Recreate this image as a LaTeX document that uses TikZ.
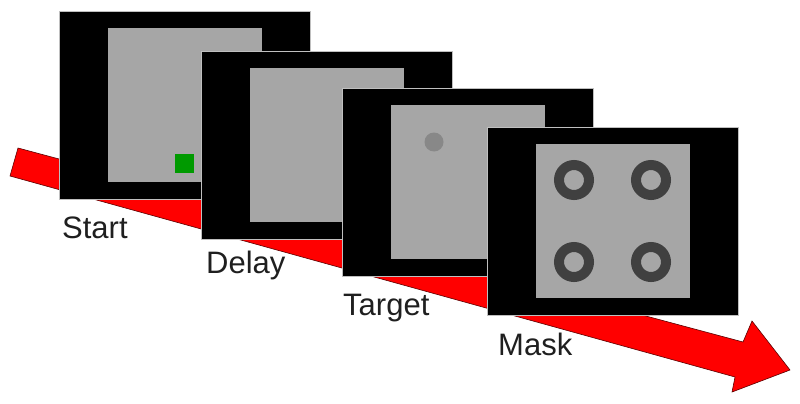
\documentclass[tikz,border=0pt]{standalone}
\usepackage{fontspec}
\setmainfont{Liberation Sans}
\definecolor{scrgrey}{HTML}{A6A6A6}
\definecolor{ringgrey}{HTML}{404040}
\definecolor{dotgrey}{HTML}{888888}
\definecolor{cuegreen}{HTML}{009A00}
\definecolor{arrowred}{HTML}{FF0000}
\definecolor{arrowedge}{HTML}{5A0000}
\begin{document}
\begin{tikzpicture}[x=1pt,y=-1pt,
  screen/.style={draw=black!25,line width=0.6pt,fill=black,anchor=north west,inner sep=0pt,minimum width=251pt,minimum height=188pt},
  panel/.style={fill=scrgrey,anchor=north west,inner sep=0pt,minimum width=154pt,minimum height=154pt},
  lab/.style={anchor=base west,inner sep=0pt,font=\fontsize{31}{35}\selectfont,text=black!88},
  ring/.style={circle,draw=ringgrey,line width=10pt,minimum size=30pt,inner sep=0pt}]
\useasboundingbox (0,0) rectangle (800,404);
% arrow
\draw[fill=arrowred,draw=arrowedge,line width=0.6pt,line join=miter]
  (18,148) -- (743,342) -- (752,321) -- (790,370) -- (732,392) -- (735,377) -- (10,176) -- cycle;
% screen 1
\node[screen] (s1) at (59,11) {};
\node[panel] (p1) at (108,28) {};
\node[fill=cuegreen,anchor=north west,inner sep=0pt,minimum width=19pt,minimum height=19pt] (cue) at (175,154) {};
% screen 2
\node[screen] (s2) at (201,51) {};
\node[panel] (p2) at (250,68) {};
% screen 3
\node[screen] (s3) at (342,88) {};
\node[panel] (p3) at (391,105) {};
\node[circle,fill=dotgrey,minimum size=19pt,inner sep=0pt] (dot) at (434,142) {};
% screen 4
\node[screen] (s4) at (487,127) {};
\node[panel] (p4) at (536,144) {};
\node[ring] (r1) at (574,180) {};
\node[ring] (r2) at (651,180) {};
\node[ring] (r3) at (574,262) {};
\node[ring] (r4) at (651,262) {};
% labels
\node[lab] (l1) at (62,238) {Start};
\node[lab] (l2) at (206,273) {Delay};
\node[lab] (l3) at (343,315) {Target};
\node[lab] (l4) at (498,355) {Mask};
\end{tikzpicture}
\end{document}
